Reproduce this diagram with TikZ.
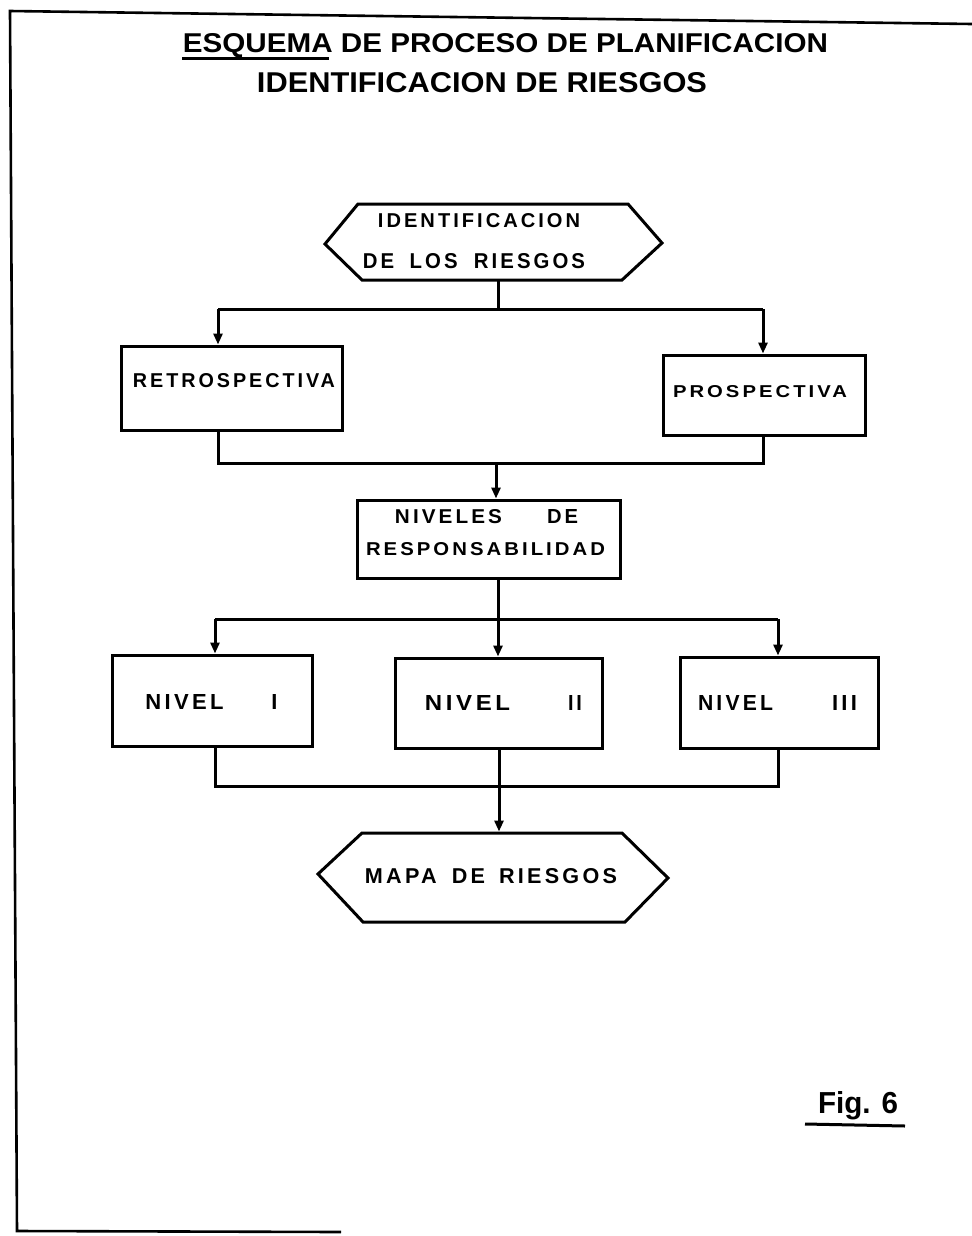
\documentclass[tikz,border=0pt]{standalone}
\usepackage{fontspec}
\usepackage{graphicx}
\setmainfont{Liberation Sans}
\newfontfamily\lblfont{Liberation Sans}[LetterSpace=15]
\usetikzlibrary{arrows.meta}
\newcommand\fitt[3]{\resizebox{#1}{#2}{\lblfont\bfseries #3}}
\newcommand\fitk[2]{\resizebox{!}{#1}{\lblfont\bfseries #2}}
\newcommand\titt[3]{\resizebox{#1}{#2}{\bfseries #3}}
\tikzset{
  box/.style={draw=black, line width=3bp, rectangle, inner sep=0pt},
  hexa/.style={draw=black, line width=3bp, line join=miter},
  txt/.style={inner sep=0pt, outer sep=0pt, anchor=base, text=black},
  conn/.style={draw=black, line width=3bp},
  arr/.style={conn, -{Triangle[width=9bp,length=11bp]}},
  frame/.style={draw=black, line width=2.6bp},
}
\begin{document}
\begin{tikzpicture}[x=1bp,y=-1bp]
\useasboundingbox (0,0) rectangle (972,1236);
\fill[white] (0,0) rectangle (972,1236);

% frame
\draw[frame] (972,24) -- (10,11) -- (17,1231) -- (341,1232);

% title
\node[txt] (title1) at (505.5,52) {\titt{645bp}{19bp}{ESQUEMA DE PROCESO DE PLANIFICACION}};
\node[txt] (title2) at (482,92) {\titt{450bp}{20bp}{IDENTIFICACION DE RIESGOS}};
\draw[line width=3bp] (182,58) -- (329,58);

% hexagon 1
\draw[hexa] (325,244) -- (358,204) -- (628,204) -- (662,243) -- (622,280) -- (362,280) -- cycle;
\coordinate (hex1b) at (498,281);
\node[txt] (ident1) at (479,227) {\fitt{202bp}{14bp}{IDENTIFICACION}};
\node[txt] (ident2) at (474,268) {\fitt{222bp}{15bp}{DE\hspace{0.75em}LOS\hspace{0.8em}RIESGOS}};

% retrospectiva / prospectiva
\node[box, minimum width=220bp, minimum height=84bp] (retro) at (232,388) {};
\node[txt] (tretro) at (234,387) {\fitt{202bp}{14bp}{RETROSPECTIVA}};
\node[box, minimum width=202bp, minimum height=80bp] (prosp) at (764,395) {};
\node[txt] (tprosp) at (760,397) {\fitt{174bp}{12bp}{PROSPECTIVA}};

% niveles de responsabilidad
\node[box, minimum width=263bp, minimum height=78bp] (niveles) at (488.5,539) {};
\node[txt] (tniv1) at (486.5,523) {\fitt{107bp}{14bp}{NIVELES}\hspace{45bp}\fitt{31bp}{14bp}{DE}};
\node[txt] (tniv2) at (485.5,555) {\fitt{239bp}{13bp}{RESPONSABILIDAD}};

% niveles I II III
\node[box, minimum width=199bp, minimum height=91bp] (nivI) at (212.5,700.5) {};
\node[txt] (tnI) at (211.5,709) {\fitt{78bp}{15bp}{NIVEL}\hspace{48bp}\fitk{15bp}{I}};
\node[box, minimum width=207bp, minimum height=90bp] (nivII) at (498.5,703) {};
\node[txt] (tnII) at (503.5,710) {\fitt{85bp}{15bp}{NIVEL}\hspace{58bp}\fitt{14bp}{15bp}{II}};
\node[box, minimum width=198bp, minimum height=91bp] (nivIII) at (779,702.5) {};
\node[txt] (tnIII) at (777.5,710) {\fitt{75bp}{15bp}{NIVEL}\hspace{59bp}\fitt{25bp}{15bp}{III}};

% hexagon 2
\draw[hexa] (318,874) -- (362,833) -- (622,833) -- (668,878) -- (625,922) -- (363,922) -- cycle;
\coordinate (hex2t) at (499,831.5);
\node[txt] (tmapa) at (491,883) {\fitt{252bp}{15bp}{MAPA\hspace{0.7em}DE\hspace{0.65em}RIESGOS}};

% connectors: first split
\coordinate (s1) at (498,309);
\coordinate (s1L) at (218,309);
\coordinate (s1R) at (763,309);
\draw[conn] (hex1b) -- (s1);
\draw[conn] (s1L) -- (s1R);
\draw[arr] (s1L) -- (s1L |- retro.north);
\draw[arr] (s1R) -- (s1R |- prosp.north);

% first merge
\coordinate (m1) at (496,463);
\coordinate (m1L) at (218,463);
\coordinate (m1R) at (763,463);
\draw[conn] (m1L |- retro.south) -- (m1L) -- (m1R) -- (m1R |- prosp.south);
\draw[arr] (m1) -- (m1 |- niveles.north);

% second split
\coordinate (s2) at (498,619);
\coordinate (s2L) at (215,619);
\coordinate (s2R) at (778,619);
\draw[conn] (s2 |- niveles.south) -- (s2);
\draw[conn] (s2L) -- (s2R);
\draw[arr] (s2L) -- (s2L |- nivI.north);
\draw[arr] (s2) -- (s2 |- nivII.north);
\draw[arr] (s2R) -- (s2R |- nivIII.north);

% second merge
\coordinate (m2) at (499,786);
\coordinate (m2L) at (215,786);
\coordinate (m2R) at (778,786);
\draw[conn] (m2L |- nivI.south) -- (m2L) -- (m2R) -- (m2R |- nivIII.south);
\draw[arr] (m2 |- nivII.south) -- (hex2t);

% figure label
\node[txt] (fig) at (858,1113) {\resizebox{80bp}{22bp}{\bfseries Fig. 6}};
\draw[line width=3bp] (805,1124) -- (905,1126);
\end{tikzpicture}
\end{document}
